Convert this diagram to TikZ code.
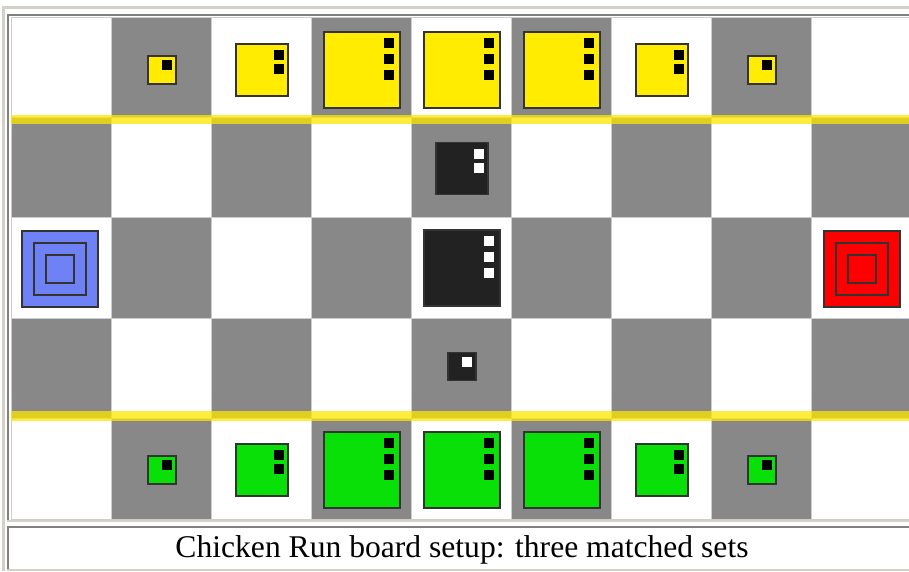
\documentclass[tikz,border=0pt]{standalone}
\usepackage{xcolor}
\usepackage{tikz}
\usepackage{fontspec}
\setmainfont{Liberation Serif}
\usetikzlibrary{
  positioning,
  calc
}

\definecolor{framebeige}{RGB}{212,208,200}
\definecolor{framedark}{RGB}{128,128,128}
\definecolor{sqgray}{RGB}{136,136,136}
\definecolor{gridline}{RGB}{205,205,205}
\definecolor{piecerim}{RGB}{51,51,51}
\definecolor{pieceyellow}{RGB}{255,236,0}
\definecolor{piecegreen}{RGB}{8,224,8}
\definecolor{pieceblack}{RGB}{34,34,34}
\definecolor{homeblue}{RGB}{110,130,245}
\definecolor{homered}{RGB}{255,0,0}
\definecolor{fenceyellow}{RGB}{255,230,0}

\tikzset{
  piece/.style={draw=piecerim, line width=1.6pt},
  fence/.style={fill=fenceyellow, opacity=0.75}
}

% x, y, size, pips, body colour, pip colour
\newcommand{\chickpiece}[6]{%
  \pgfmathsetmacro{\half}{#3/2}%
  \ifnum#3<40 \def\pr{4}\def\pt{4}\def\pg{14}%
  \else\ifnum#3<60 \def\pr{4}\def\pt{6}\def\pg{14}%
  \else \def\pr{6}\def\pt{6}\def\pg{16}\fi\fi
  \draw[piece, fill=#5] (#1-\half, #2-\half) rectangle ++(#3,#3);
  \foreach \k in {1,...,#4}{
    \fill[#6] (#1+\half-\pr-10, #2-\half+\pt+\k*\pg-\pg) rectangle ++(10,10);
  }
}

\begin{document}
\begin{tikzpicture}[x=1pt, y=-1pt]
  \clip (0,0) rectangle (909,571);
  \fill[white] (0,0) rectangle (909,571);

  % table frame
  \fill[framebeige] (2,6) rectangle (909,9);
  \fill[framebeige] (2,6) rectangle (5,571);
  \fill[framedark] (7,14) rectangle (909,16);
  \fill[framedark] (7,14) rectangle (9,520);
  \fill[framebeige] (7,520) rectangle (909,522);
  \fill[framedark] (7,526) rectangle (909,528);
  \fill[framedark] (7,526) rectangle (9,569);
  \fill[framebeige] (7,569) rectangle (909,571);

  % board squares
  \foreach \r in {0,...,4}{
    \foreach \c in {0,...,8}{
      \pgfmathtruncatemacro{\odd}{mod(\r+\c,2)}
      \ifnum\odd=1 \def\sq{sqgray}\else \def\sq{white}\fi
      \filldraw[fill=\sq, draw=gridline, line width=0.8pt] (11+\c*100.1, 17+\r*100.4) rectangle ++(100.1,100.4);
    }
  }

  % fences
  \fill[fence] (11,114.5) rectangle (909,124);
  \fill[fence] (11,411) rectangle (909,421);

  % the two sets of chickens
  \foreach \c/\s/\n in {1/28/1, 2/52/2, 3/76/3, 4/76/3, 5/76/3, 6/52/2, 7/28/1}{
    \chickpiece{62+\c*100}{70}{\s}{\n}{pieceyellow}{black}
    \chickpiece{62+\c*100}{470}{\s}{\n}{piecegreen}{black}
  }

  % the fox set
  \foreach \y/\s/\n in {168.5/52/2, 268/76/3, 366.5/28/1}{
    \chickpiece{462}{\y}{\s}{\n}{pieceblack}{white}
  }

  % homes
  \foreach \hx/\hcol in {60/homeblue, 862/homered}{
    \draw[piece, fill=\hcol] (\hx-38,231) rectangle ++(76,76);
    \draw[piece] (\hx-26,243) rectangle ++(52,52);
    \draw[piece] (\hx-14,255) rectangle ++(28,28);
  }

  \node[font=\fontsize{31.6}{36}\selectfont, anchor=base, inner sep=0pt] (caption) at (462,557) {Chicken Run board setup: three matched sets};
\end{tikzpicture}
\end{document}
